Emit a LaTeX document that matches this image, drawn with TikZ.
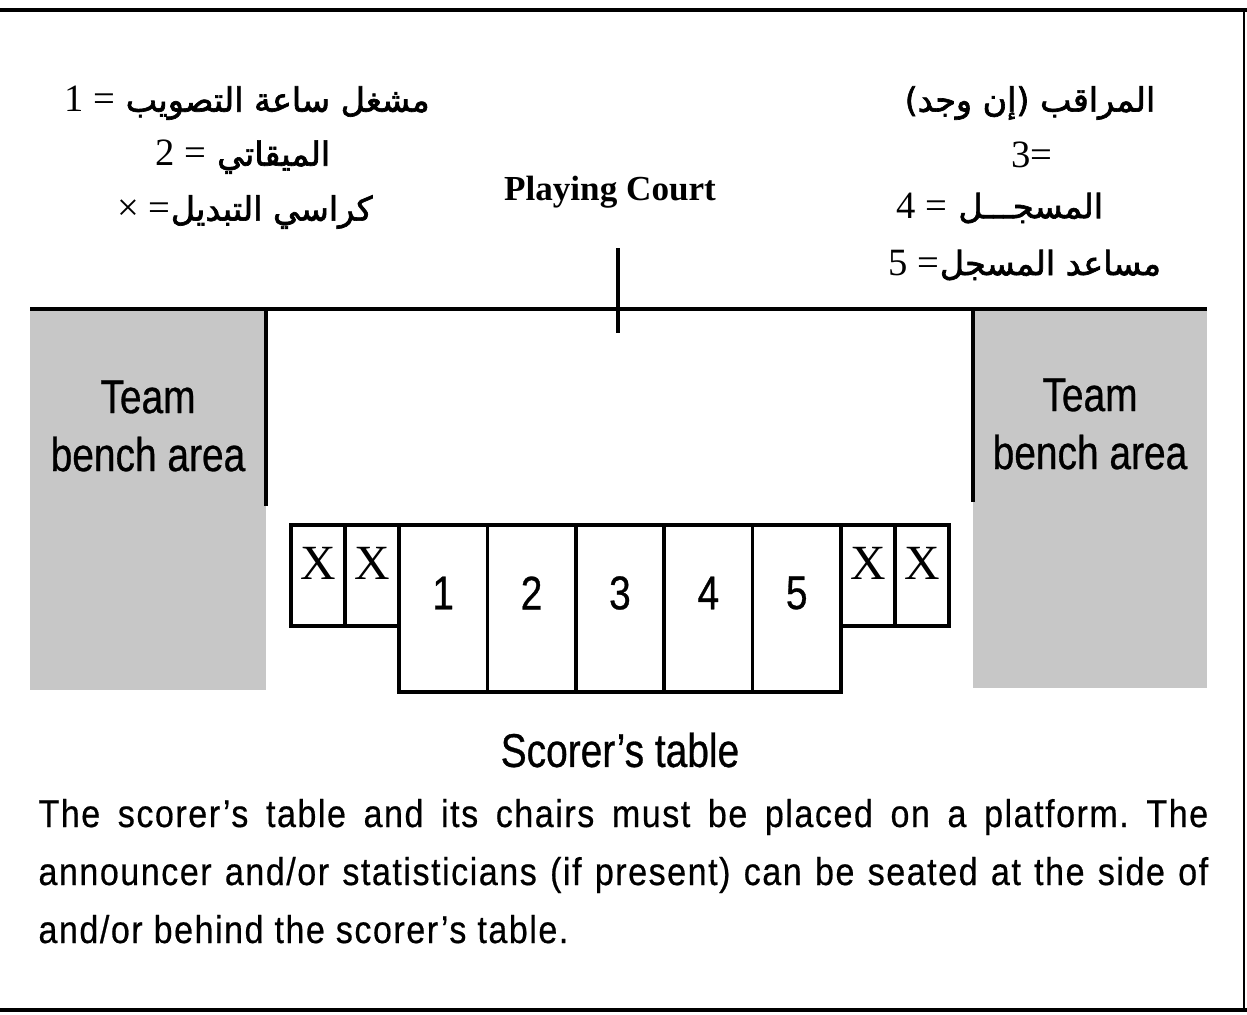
\documentclass[tikz,border=0pt]{standalone}
\usepackage{fontspec}
\usetikzlibrary{positioning}
\TeXXeTstate=1
\frenchspacing
\newfontfamily\arabicfont[Script=Arabic,FakeBold=2]{DejaVu Sans}
\newfontfamily\serifnum{Liberation Serif}
\newfontfamily\condfont[FakeStretch=0.82,FakeBold=0.6]{Liberation Sans}
\newfontfamily\notefont[FakeStretch=0.88,LetterSpace=4,FakeBold=0.5]{Liberation Sans}
\newcommand{\arnum}[1]{{\serifnum\fontsize{22}{22}\selectfont #1}}
\definecolor{benchgray}{gray}{0.78}

\begin{document}
\begin{tikzpicture}[x=0.02cm, y=-0.02cm, semithick]
    \tikzset{court/.style={line width=2pt},
      chair/.style={draw=black, line width=2pt, minimum width=1.08cm, minimum height=2.02cm, inner sep=0pt, outer sep=0pt},
      seat/.style={chair, minimum width=1.768cm, minimum height=3.34cm},
      xlab/.style={font=\serifnum\fontsize{28}{28}\selectfont, yshift=0.25cm},
      nlab/.style={font=\condfont\fontsize{27}{27}\selectfont, yshift=0.31cm},
      ar/.style={font=\arabicfont\fontsize{19}{19}\selectfont},
      bench/.style={font=\condfont\fontsize{27}{33}\selectfont, align=center},
      note/.style={font=\notefont\fontsize{22}{22}\selectfont, anchor=base west, inner sep=0pt}};
    \useasboundingbox (0,0) rectangle (1247,1014);
    % page rules
    \draw[line width=2.8pt] (0,10) -- (1247,10);
    \draw[line width=2.3pt] (0,1010) -- (1247,1010);
    \draw[line width=1.2pt] (1244,10) -- (1244,1010);
    % bench areas
    \fill[benchgray] (30,309) rectangle (266,690);
    \fill[benchgray] (973,309) rectangle (1207,688);
    \coordinate (cl) at (30,309);
    \coordinate (cr) at (1207,309);
    \coordinate (mt) at (618,248);
    \coordinate (mb) at (618,333);
    \coordinate (bl) at (266,506);
    \coordinate (br) at (973,502);
    \draw[court] (cl) -- (cr);
    \draw[court] (mt) -- (mb);
    \draw[court] (cl -| bl) -- (bl);
    \draw[court] (cr -| br) -- (br);
    \node[bench] (benchL) at (148,426) {Team\\bench area};
    \node[bench] (benchR) at (1090,424) {Team\\bench area};
    \node[font=\serifnum\bfseries\fontsize{20}{20}\selectfont] (court) at (610,192) {Playing Court};
    % legend
    \node[ar] (ar1) at (247,103) {\beginR مشغل ساعة التصويب \arnum{= 1}\endR};
    \node[ar] (ar2) at (243,157) {\beginR الميقاتي \arnum{= 2}\endR};
    \node[ar] (ar3) at (245,212) {\beginR كراسي التبديل\arnum{= ×}\endR};
    \node[ar] (ar4) at (1030,103) {\beginR المراقب (إن وجد)\endR};
    \node[ar] (ar5) at (1032,155) {\arnum{3=}};
    \node[ar] (ar6) at (1000,208) {\beginR المسجـــل \arnum{= 4}\endR};
    \node[ar] (ar7) at (1025,265) {\beginR مساعد المسجل\arnum{= 5}\endR};
    % scorer's table
    \node[chair, anchor=north west, label={[xlab]center:X}] (xl1) at (291,525) {};
    \node[chair, anchor=north west, label={[xlab]center:X}] (xl2) at (xl1.north east) {};
    \node[seat, anchor=north west, label={[nlab]center:1}] (s1) at (xl2.north east) {};
    \foreach \i [remember=\i as \prev (initially 1)] in {2,...,5}
      \node[seat, anchor=north west, label={[nlab]center:\i}] (s\i) at (s\prev.north east) {};
    \node[chair, anchor=north west, label={[xlab]center:X}] (xr1) at (s5.north east) {};
    \node[chair, anchor=north west, label={[xlab]center:X}] (xr2) at (xr1.north east) {};
    \node[font=\condfont\fontsize{27}{27}\selectfont] (table) at (620,750) {Scorer’s table};
    % note
    \node[note] (l1) at (38,827) {\makebox[23.4cm][s]{The scorer’s table and its chairs must be placed on a platform. The}};
    \node[note] (l2) at (38,885) {\makebox[23.4cm][s]{announcer and/or statisticians (if present) can be seated at the side of}};
    \node[note] (l3) at (38,943) {and/or behind the scorer’s table.};
\end{tikzpicture}
\end{document}
